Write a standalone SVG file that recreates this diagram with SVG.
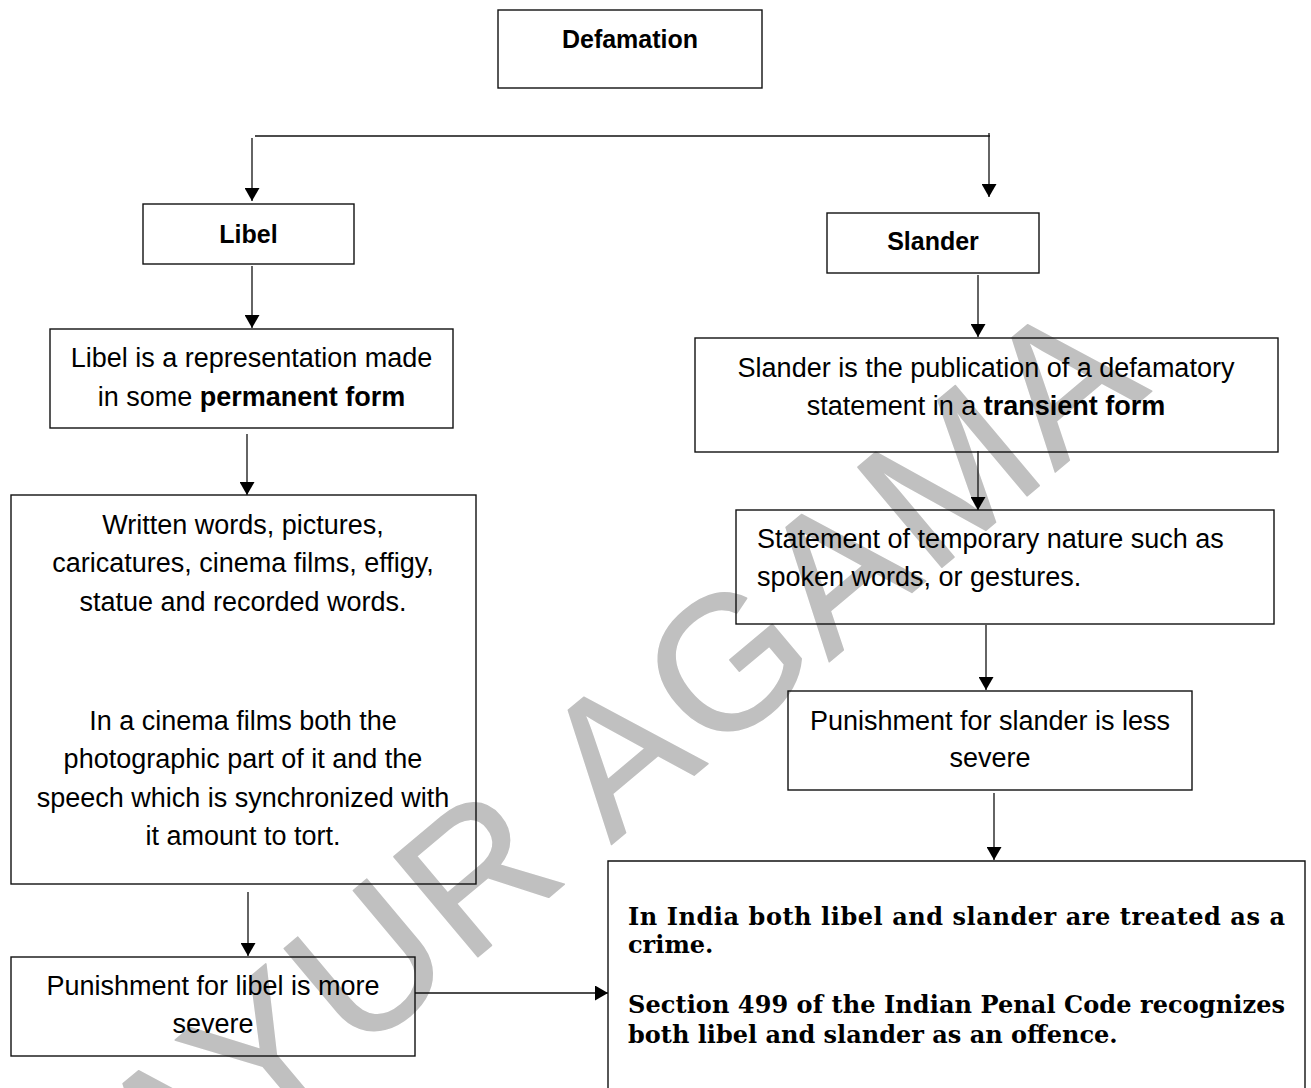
<svg xmlns="http://www.w3.org/2000/svg" width="1311" height="1088" viewBox="0 0 1311 1088">
  <defs>
    <marker id="arrow" markerUnits="userSpaceOnUse" viewBox="0 0 13 15" refX="13" refY="7.5" markerWidth="13" markerHeight="15" orient="auto">
      <path d="M0,0 L13,7.5 L0,15 z" fill="#000"/>
    </marker>
  </defs>
  <style>
    .box { fill: none; stroke: #111; stroke-width: 1.4; }
    .conn { fill: none; stroke: #111; stroke-width: 1.3; }
    .arr { marker-end: url(#arrow); }
    .t { font-family: "Liberation Sans", Arial, sans-serif; font-size: 27px; fill: #000; }
    .c { text-anchor: middle; }
    .b { font-weight: bold; }
    .h { font-family: "Liberation Sans", Arial, sans-serif; font-size: 25px; font-weight: bold; text-anchor: middle; fill: #000; }
    .s { font-family: "DejaVu Serif", Georgia, serif; font-size: 24px; font-weight: bold; fill: #000; }
    .wm { font-family: "Liberation Sans", Arial, sans-serif; font-size: 190px; letter-spacing: 5px; fill: #c0c0c0; stroke: #c0c0c0; stroke-width: 1.5; stroke-linejoin: round; text-anchor: middle; }
  </style>

  <rect width="1311" height="1088" fill="#fff"/>

  <!-- watermark, behind everything else -->
  <text class="wm" transform="translate(661,803) rotate(-40)">AYUR AGAMA</text>

  <!-- connectors -->
  <g id="connectors">
    <path class="conn" d="M255,136 H990"/>
    <path class="conn arr" d="M252,138 V201"/>
    <path class="conn arr" d="M989,133 V197"/>
    <path class="conn arr" d="M252,266 V328"/>
    <path class="conn arr" d="M247,434 V495"/>
    <path class="conn arr" d="M248,892 V956"/>
    <path class="conn arr" d="M415,993 H608"/>
    <path class="conn arr" d="M978,275 V337"/>
    <path class="conn arr" d="M978,451 V510"/>
    <path class="conn arr" d="M986,625 V690"/>
    <path class="conn arr" d="M994,793 V860"/>
  </g>

  <g id="defamation">
    <rect class="box" x="498" y="10" width="264" height="78"/>
    <text class="h" x="630" y="48" font-size="26">Defamation</text>
  </g>

  <g id="libel">
    <rect class="box" x="143" y="204" width="211" height="60"/>
    <text class="h" x="248.5" y="243">Libel</text>
  </g>

  <g id="slander">
    <rect class="box" x="827" y="213" width="212" height="60"/>
    <text class="h" x="933" y="250">Slander</text>
  </g>

  <g id="libel-definition">
    <rect class="box" x="50" y="329" width="403" height="99"/>
    <text class="t c" x="251.5" y="367">Libel is a representation made</text>
    <text class="t c" x="251.5" y="406">in some <tspan class="b">permanent form</tspan></text>
  </g>

  <g id="slander-definition">
    <rect class="box" x="695" y="338" width="583" height="114"/>
    <text class="t c" x="986" y="377">Slander is the publication of a defamatory</text>
    <text class="t c" x="986" y="415">statement in a <tspan class="b">transient form</tspan></text>
  </g>

  <g id="libel-examples">
    <rect class="box" x="11" y="495" width="465" height="389"/>
    <text class="t c" x="243" y="534">Written words, pictures,</text>
    <text class="t c" x="243" y="572">caricatures, cinema films, effigy,</text>
    <text class="t c" x="243" y="611">statue and recorded words.</text>
    <text class="t c" x="243" y="730">In a cinema films both the</text>
    <text class="t c" x="243" y="768">photographic part of it and the</text>
    <text class="t c" x="243" y="807">speech which is synchronized with</text>
    <text class="t c" x="243" y="845">it amount to tort.</text>
  </g>

  <g id="slander-examples">
    <rect class="box" x="736" y="510" width="538" height="114"/>
    <text class="t" x="757" y="548">Statement of temporary nature such as</text>
    <text class="t" x="757" y="586">spoken words, or gestures.</text>
  </g>

  <g id="slander-punishment">
    <rect class="box" x="788" y="691" width="404" height="99"/>
    <text class="t c" x="990" y="730">Punishment for slander is less</text>
    <text class="t c" x="990" y="767">severe</text>
  </g>

  <g id="libel-punishment">
    <rect class="box" x="11" y="957" width="404" height="99"/>
    <text class="t c" x="213" y="995">Punishment for libel is more</text>
    <text class="t c" x="213" y="1033">severe</text>
  </g>

  <g id="india-law">
    <path class="box" d="M608,1095 V861 H1305 V1095"/>
    <text class="s" x="628" y="925" textLength="657" lengthAdjust="spacing">In India both libel and slander are treated as a</text>
    <text class="s" x="628" y="953">crime.</text>
    <text class="s" x="628" y="1013" textLength="657" lengthAdjust="spacing">Section 499 of the Indian Penal Code recognizes</text>
    <text class="s" x="628" y="1043">both libel and slander as an offence.</text>
  </g>
</svg>
